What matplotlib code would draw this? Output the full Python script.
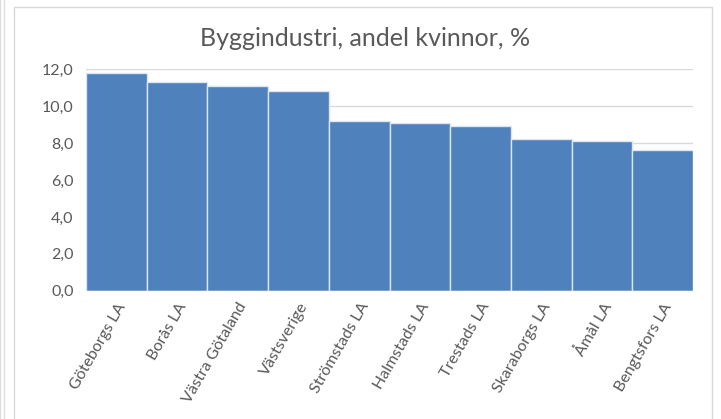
import matplotlib.pyplot as plt
from matplotlib.patches import Rectangle
from matplotlib.ticker import FuncFormatter

plt.rcParams['font.family'] = ['Lato', 'DejaVu Sans']

# data
regioner = ['Göteborgs LA', 'Borås LA', 'Västra Götaland', 'Västsverige',
            'Strömstads LA', 'Halmstads LA', 'Trestads LA', 'Skaraborgs LA',
            'Åmål LA', 'Bengtsfors LA']
andel = [11.8, 11.3, 11.1, 10.8, 9.2, 9.1, 8.9, 8.2, 8.1, 7.6]

fig = plt.figure(figsize=(7.21, 4.19), dpi=100)
# chart frame like in Excel
fig.patches.append(Rectangle((14 / 721, -0.01), 698 / 721, 1 - 7 / 419 + 0.01,
                             transform=fig.transFigure, fill=False,
                             edgecolor='#D9D9D9', linewidth=1))
fig.patches.append(Rectangle((0, -0.01), 4 / 721, 1.02,
                             transform=fig.transFigure, fill=False,
                             edgecolor='#E0E0E0', linewidth=1))

ax = fig.add_axes([86 / 721, 1 - 290.7 / 419, 607 / 721, 221.4 / 419])
x = range(len(regioner))
ax.bar(x, andel, width=1.0, color='#4F81BD', edgecolor='#DCE6F2', linewidth=1, zorder=3)

ax.set_xlim(-0.5, len(regioner) - 0.5)
ax.set_ylim(0, 12)
ax.set_yticks(range(0, 13, 2))
ax.yaxis.set_major_formatter(FuncFormatter(lambda v, p: f'{v:.1f}'.replace('.', ',')))
ax.grid(axis='y', color='#D9D9D9', linewidth=1, zorder=0)
for s in ax.spines.values():
    s.set_visible(False)
ax.axhline(0, color='#D9D9D9', linewidth=1, zorder=4)
ax.tick_params(length=0, colors='#595959', labelsize=11.5)
ax.tick_params(axis='y', pad=9)

ax.set_xticks(list(x))
ax.set_xticklabels(regioner, rotation=60, ha='right', rotation_mode='anchor')
ax.tick_params(axis='x', pad=7)

fig.text(0.507, 1 - 38 / 419, 'Byggindustri, andel kvinnor, %', ha='center', va='center',
         fontsize=18, color='#595959')

plt.savefig('out.png', dpi=100)
